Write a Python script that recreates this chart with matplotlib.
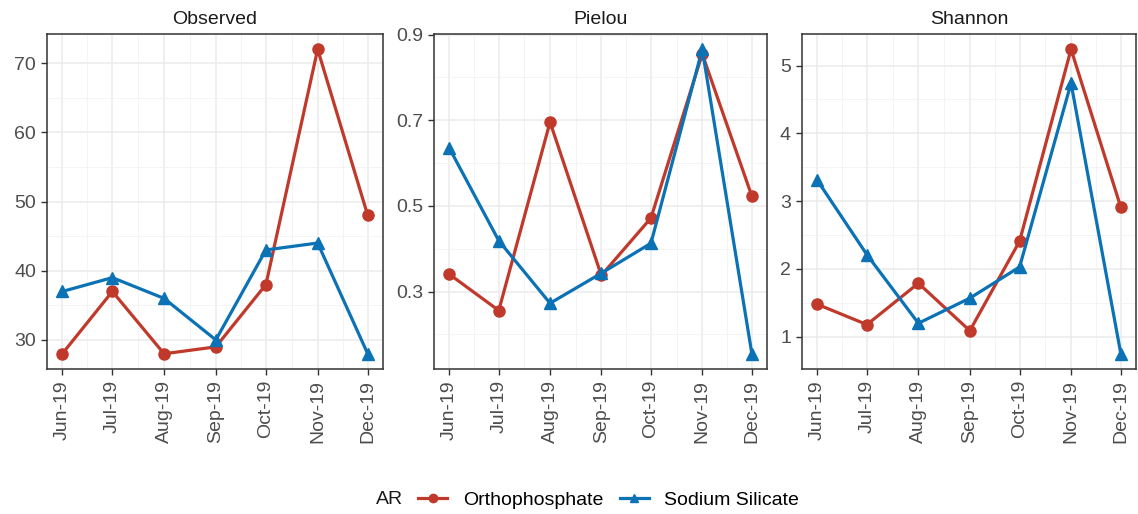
"""Alpha diversity over time, one panel per index"""

from datetime import date

import matplotlib.pyplot as plt
import matplotlib.dates as mdates

plt.rcParams['font.family'] = ['Liberation Sans', 'DejaVu Sans']

months = [date(2019, m, 1) for m in range(6, 13)]
month_labels = ["Jun-19", "Jul-19", "Aug-19", "Sep-19", "Oct-19", "Nov-19", "Dec-19"]

groups = ["Orthophosphate", "Sodium Silicate"]

observed_ortho = [28, 37, 28, 29, 38, 72, 48]
observed_sodium = [37, 39, 36, 30, 43, 44, 28]

pielou_ortho = [0.341, 0.256, 0.696, 0.338, 0.472, 0.855, 0.523]
pielou_sodium = [0.636, 0.419, 0.273, 0.343, 0.413, 0.866, 0.155]

shannon_ortho = [1.48, 1.18, 1.79, 1.09, 2.41, 5.24, 2.91]
shannon_sodium = [3.31, 2.21, 1.20, 1.57, 2.03, 4.74, 0.75]

panels = ["Observed", "Pielou", "Shannon"]
series = {
    "Observed": (observed_ortho, observed_sodium),
    "Pielou": (pielou_ortho, pielou_sodium),
    "Shannon": (shannon_ortho, shannon_sodium),
}
yticks = {
    "Observed": [30, 40, 50, 60, 70],
    "Pielou": [0.3, 0.5, 0.7, 0.9],
    "Shannon": [1, 2, 3, 4, 5],
}
ylabels = {
    "Observed": ["30", "40", "50", "60", "70"],
    "Pielou": ["0.3", "0.5", "0.7", "0.9"],
    "Shannon": ["1", "2", "3", "4", "5"],
}

colors = ["#C0392B", "#0A72B5"]
markers = ["o", "^"]

W, H = 1138, 514
fig = plt.figure(figsize=(W / 100, H / 100), dpi=100)

# panel boxes in pixels: left, right
boxes = [(47, 383), (434, 767), (802, 1136)]
top, bottom = 34, 369

x = mdates.date2num(months)
x_minor = [(a + b) / 2 for a, b in zip(x[:-1], x[1:])]

for name, (l, r) in zip(panels, boxes):
    ax = fig.add_axes([l / W, 1 - bottom / H, (r - l) / W, (bottom - top) / H])
    for vals, col, mk, lab in zip(series[name], colors, markers, groups):
        ax.plot(x, vals, color=col, lw=2.3, marker=mk, ms=8, label=lab,
                solid_joinstyle="round", zorder=3)
    ax.margins(0.05)

    yt = yticks[name]
    step = yt[1] - yt[0]
    lo, hi = ax.get_ylim()
    minors = [yt[0] - step / 2 + i * step for i in range(len(yt) + 1)]
    minors = [v for v in minors if lo <= v <= hi]

    ax.set_xticks(x)
    ax.set_xticklabels(month_labels, rotation=90)
    ax.set_xticks(x_minor, minor=True)
    ax.set_yticks(yt)
    ax.set_yticklabels(ylabels[name])
    ax.set_yticks(minors, minor=True)

    ax.grid(which="major", color="#EBEBEB", lw=1.1, zorder=0)
    ax.grid(which="minor", color="#F2F2F2", lw=0.6, zorder=0)
    ax.set_axisbelow(True)
    ax.tick_params(which="major", length=4, width=1, color="#333333",
                   labelsize=14, labelcolor="#4D4D4D", pad=4)
    ax.tick_params(which="minor", length=0)
    for s in ax.spines.values():
        s.set_color("#333333")
        s.set_linewidth(1.1)
    ax.set_title(name, fontsize=14, color="#1A1A1A", pad=7)

handles = fig.axes[0].get_lines()
fig.text(403 / W, 1 - 500 / H, "AR", fontsize=14, color="#1A1A1A",
         ha="right", va="center")
fig.legend(handles, groups, loc="center left",
           bbox_to_anchor=(418 / W, 1 - 500 / H), ncol=2, frameon=False,
           fontsize=14, handlelength=1.5, handletextpad=0.8,
           columnspacing=0.85, borderpad=0, borderaxespad=0,
           markerscale=0.75)

fig.savefig("out.png", dpi=100)
